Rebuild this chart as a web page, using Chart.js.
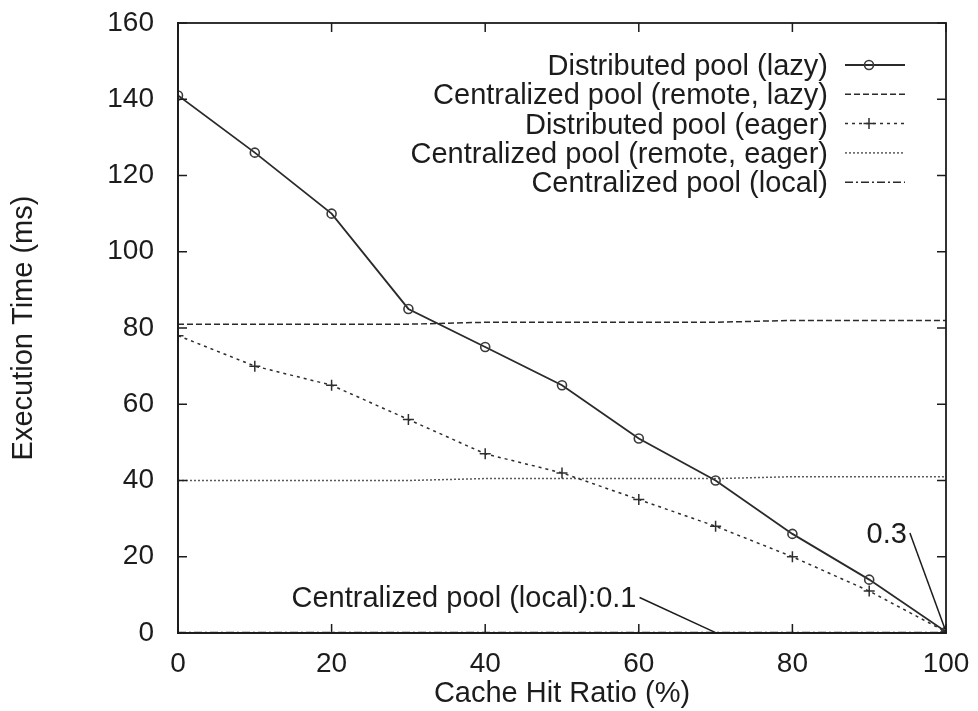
<!DOCTYPE html>
<html><head><meta charset="utf-8">
<script src="https://cdn.jsdelivr.net/npm/chart.js@4.4.1/dist/chart.umd.min.js"></script>
<style>html,body{margin:0;padding:0;background:#fff;}canvas{display:block;}</style>
</head><body>
<canvas id="c" width="978" height="711"></canvas>
<script>
const hitRatio = [0, 10, 20, 30, 40, 50, 60, 70, 80, 90, 100];
const distributedLazy = [141, 126, 110, 85, 75, 65, 51, 40, 26, 14, 0.3];
const centralizedRemoteLazy = [81, 81, 81, 81, 81.5, 81.5, 81.5, 81.5, 82, 82, 82];
const distributedEager = [78, 70, 65, 56, 47, 42, 35, 28, 20, 11, 0.3];
const centralizedRemoteEager = [40, 40, 40, 40, 40.5, 40.5, 40.5, 40.5, 41, 41, 41];
const centralizedLocal = [0.1, 0.1, 0.1, 0.1, 0.1, 0.1, 0.1, 0.1, 0.1, 0.1, 0.1];
const seriesNames = ['Distributed pool (lazy)', 'Centralized pool (remote, lazy)', 'Distributed pool (eager)', 'Centralized pool (remote, eager)', 'Centralized pool (local)'];
const xTickValues = [0, 20, 40, 60, 80, 100];
const yTickValues = [0, 20, 40, 60, 80, 100, 120, 140, 160];
const xTitle = 'Cache Hit Ratio (%)';
const yTitle = 'Execution Time (ms)';
const noteLocal = 'Centralized pool (local):0.1';
const noteEnd = '0.3';

const ink = '#1c1c1c';
const FONT = "'Liberation Sans', Arial, Helvetica, sans-serif";
const pts = arr => hitRatio.map((x, i) => ({x: x, y: arr[i]}));

const datasets = [
  {label: seriesNames[0], data: pts(distributedLazy), borderColor: '#2a2a2a', borderWidth: 1.8, borderDash: [],
   pointStyle: 'circle', pointRadius: 4.5, pointBorderWidth: 1.6, pointBorderColor: '#3a3a3a', pointBackgroundColor: 'rgba(255,255,255,0)'},
  {label: seriesNames[1], data: pts(centralizedRemoteLazy), borderColor: '#2a2a2a', borderWidth: 1.5, borderDash: [6, 3], pointRadius: 0},
  {label: seriesNames[2], data: pts(distributedEager), borderColor: '#2e2e2e', borderWidth: 1.5, borderDash: [3, 4],
   pointStyle: 'cross', pointRadius: 5.5, pointBorderWidth: 1.5, pointBorderColor: '#2e2e2e'},
  {label: seriesNames[3], data: pts(centralizedRemoteEager), borderColor: '#5a5a5a', borderWidth: 1.5, borderDash: [2, 2], pointRadius: 0},
  {label: seriesNames[4], data: pts(centralizedLocal), borderColor: '#2a2a2a', borderWidth: 1.5, borderDash: [8, 3, 2, 3], pointRadius: 0}
];

function drawMarker(ctx, ds, x, y) {
  if (!ds.pointRadius) return;
  const r = ds.pointRadius;
  ctx.save();
  ctx.setLineDash([]);
  ctx.lineWidth = ds.pointBorderWidth;
  ctx.strokeStyle = ds.pointBorderColor;
  ctx.beginPath();
  if (ds.pointStyle === 'circle') {
    ctx.arc(x, y, r, 0, Math.PI * 2);
  } else {
    ctx.moveTo(x - r, y); ctx.lineTo(x + r, y);
    ctx.moveTo(x, y - r); ctx.lineTo(x, y + r);
  }
  ctx.stroke();
  ctx.restore();
}

const decor = {
  id: 'decor',
  afterDatasetsDraw(chart) {
    const {ctx, chartArea: a, scales: {x, y}} = chart;
    ctx.save();
    // frame
    ctx.strokeStyle = ink; ctx.lineWidth = 1.8; ctx.setLineDash([]);
    ctx.strokeRect(a.left, a.top, a.right - a.left, a.bottom - a.top);
    // inward ticks (mirrored)
    const tl = 9;
    ctx.lineWidth = 1.5;
    ctx.beginPath();
    xTickValues.forEach(v => {
      const px = x.getPixelForValue(v);
      ctx.moveTo(px, a.bottom); ctx.lineTo(px, a.bottom - tl);
      ctx.moveTo(px, a.top); ctx.lineTo(px, a.top + tl);
    });
    yTickValues.forEach(v => {
      const py = y.getPixelForValue(v);
      ctx.moveTo(a.left, py); ctx.lineTo(a.left + tl, py);
      ctx.moveTo(a.right, py); ctx.lineTo(a.right - tl, py);
    });
    ctx.stroke();

    // annotations
    ctx.font = '29px ' + FONT;
    ctx.fillStyle = ink;
    ctx.textBaseline = 'alphabetic';
    ctx.textAlign = 'right';
    ctx.fillText(noteLocal, x.getPixelForValue(59.7), y.getPixelForValue(6.8));
    ctx.lineWidth = 1.5;
    ctx.beginPath();
    ctx.moveTo(x.getPixelForValue(60.1), y.getPixelForValue(9.3));
    ctx.lineTo(x.getPixelForValue(70), y.getPixelForValue(0.1));
    ctx.stroke();
    ctx.fillText(noteEnd, x.getPixelForValue(94.9), y.getPixelForValue(23.6));
    ctx.beginPath();
    ctx.moveTo(x.getPixelForValue(95.3), y.getPixelForValue(26.2));
    ctx.lineTo(x.getPixelForValue(100), y.getPixelForValue(0.3));
    ctx.stroke();

    // legend
    chart.data.datasets.forEach((ds, i) => {
      const base = a.top + 52 + i * 29.3;
      const cy = base - 10;
      ctx.fillStyle = ink;
      ctx.textAlign = 'right';
      ctx.fillText(ds.label, a.right - 118, base);
      ctx.strokeStyle = ds.borderColor;
      ctx.lineWidth = ds.borderWidth;
      ctx.setLineDash(ds.borderDash || []);
      ctx.beginPath();
      ctx.moveTo(a.right - 101, cy); ctx.lineTo(a.right - 41, cy);
      ctx.stroke();
      drawMarker(ctx, ds, a.right - 77, cy);
    });
    ctx.restore();
  }
};

new Chart(document.getElementById('c'), {
  type: 'line',
  data: {datasets: datasets},
  plugins: [decor],
  options: {
    responsive: false,
    animation: false,
    devicePixelRatio: 1,
    layout: {padding: {top: 23, right: 32, bottom: 0, left: 4}},
    plugins: {legend: {display: false}, tooltip: {enabled: false}},
    elements: {line: {tension: 0, fill: false}},
    scales: {
      x: {
        type: 'linear', min: 0, max: 100,
        afterBuildTicks: s => { s.ticks = xTickValues.map(v => ({value: v})); },
        afterFit: s => { s.height = 78; s.paddingLeft = 0; s.paddingRight = 0; },
        ticks: {color: ink, font: {family: FONT, size: 28}, padding: 14, maxRotation: 0},
        grid: {drawOnChartArea: false, drawTicks: false},
        border: {display: true, color: ink, width: 1.8},
        title: {display: true, text: xTitle, color: ink, font: {family: FONT, size: 29}, padding: {top: 0, bottom: 0}}
      },
      y: {
        type: 'linear', min: 0, max: 160,
        afterBuildTicks: s => { s.ticks = yTickValues.map(v => ({value: v})); },
        afterFit: s => { s.width = 174; s.paddingTop = 0; s.paddingBottom = 0; },
        ticks: {color: ink, font: {family: FONT, size: 28}, padding: 24},
        grid: {drawOnChartArea: false, drawTicks: false},
        border: {display: true, color: ink, width: 1.8},
        title: {display: true, text: yTitle, color: ink, font: {family: FONT, size: 29}, padding: {top: 3, bottom: 0}}
      }
    }
  }
});
</script>
</body></html>
